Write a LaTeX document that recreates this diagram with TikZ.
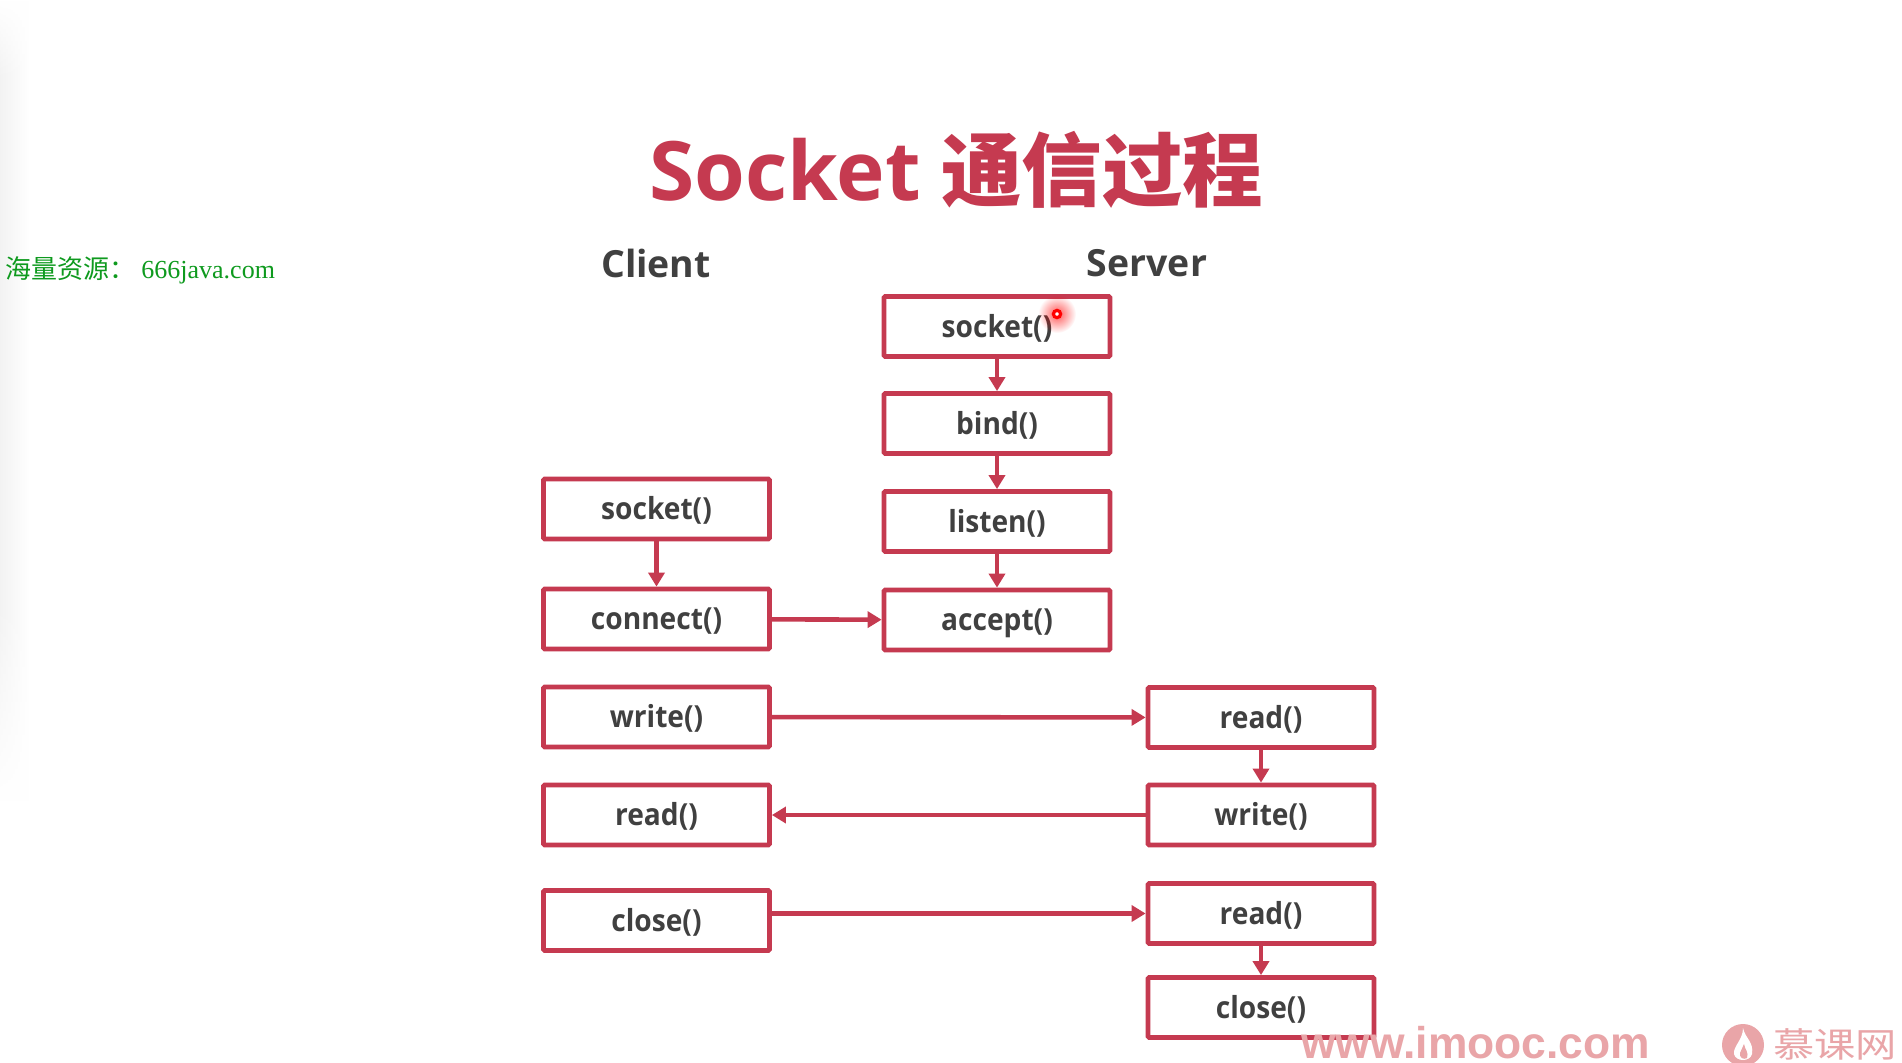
\documentclass[tikz,border=0pt]{standalone}
\usepackage{fontspec}
\setmainfont{Open Sans}
\newfontfamily\boxf[FakeStretch=0.925]{Open Sans}
\newfontfamily\cjk{Noto Sans CJK SC}
\newfontfamily\cjkw[FakeStretch=1.2]{Noto Sans CJK SC}
\newfontfamily\serifl{Liberation Serif}
\newfontfamily\arl{Liberation Sans}
\usetikzlibrary{arrows.meta,shadings,fadings}
\definecolor{boxred}{HTML}{C53A50}
\definecolor{ink}{HTML}{404040}
\definecolor{wm}{HTML}{E9A5A8}
\definecolor{grn}{HTML}{0E9A1E}
\tikzfading[name=glowf,inner color=transparent!35,outer color=transparent!100]
\tikzset{
 fn/.style={draw=boxred,line width=2.4pt,rounded corners=0.6pt,fill=white,minimum width=113pt,minimum height=30pt,inner sep=0pt,text=ink,text height=12pt,text depth=1.5pt,font=\boxf\bfseries\fontsize{15.2}{18}\selectfont},
 arr/.style={draw=boxred,line width=2.3pt,-{Triangle[length=7pt,width=8pt]}},
 head/.style={text=ink,font=\bfseries\fontsize{18.7}{23}\selectfont,inner sep=0pt},
 wmark/.style={text=wm,inner sep=0pt},
}
\begin{document}
\begin{tikzpicture}[x=0.5pt,y=-0.5pt]
\useasboundingbox (0,0) rectangle (1902,1062);
\fill[white] (0,0) rectangle (1902,1062);
\shade[left color=black!5,right color=white] (0,0) rectangle (30,800);
\fill[white,path fading=north] (0,600) rectangle (30,802);
\fill[white,path fading=south] (0,0) rectangle (30,80);
% title
\node[text=boxred,inner sep=0pt,font=\bfseries\fontsize{41}{50}\selectfont] (title) at (956.5,170) {Socket\hspace{-0.5pt} {\cjk\bfseries\fontsize{40.3}{50}\selectfont 通信过程}};
\node[head] (client) at (656,263) {Client};
\node[head] (server) at (1147,263) {Server};
\node[inner sep=0pt,anchor=west,text=grn,font=\fontsize{13}{16}\selectfont] (res) at (5,270) {{\cjk 海量资源：}\hspace{3pt}{\serifl 666java.com}};
% server boxes
\node[fn] (s1) at (997,326.5) {socket()};
\node[fn] (s2) at (997,423.5) {bind()};
\node[fn] (s3) at (997,521.5) {listen()};
\node[fn] (s4) at (997,620) {accept()};
\node[fn] (s5) at (1261,717.5) {read()};
\node[fn] (s6) at (1261,815) {write()};
\node[fn] (s7) at (1261,913.5) {read()};
\node[fn] (s8) at (1261,1007.5) {close()};
% client boxes
\node[fn] (c1) at (656.5,509) {socket()};
\node[fn] (c2) at (656.5,619) {connect()};
\node[fn] (c3) at (656.5,717) {write()};
\node[fn] (c4) at (656.5,815) {read()};
\node[fn] (c5) at (656.5,920.5) {close()};
% connectors
\draw[arr] (s1) -- (s2);
\draw[arr] (s2) -- (s3);
\draw[arr] (s3) -- (s4);
\draw[arr] (c1) -- (c2);
\draw[arr] (c2) -- (s4);
\draw[arr] (c3) -- (s5);
\draw[arr] (s5) -- (s6);
\draw[arr] (s6) -- (c4);
\draw[arr] (c5.east |- s7.west) -- (s7.west);
\draw[arr] (s7) -- (s8);
% cursor
\fill[red,path fading=glowf] (1057,314) circle (19);
\draw[red,line width=1.6pt,fill=white] (1057,314) circle (3.6);
% watermarks
\node[wmark,font=\arl\bfseries\fontsize{22.2}{25}\selectfont,anchor=west] (site) at (1301,1043) {www.imooc.com};
\fill[wm] (1743,1045) circle (21);
\fill[white] (1743,1028) .. controls (1745,1038) and (1754,1042) .. (1752,1054) .. controls (1750,1062) and (1736,1062) .. (1734,1054) .. controls (1733,1046) and (1743,1040) .. cycle;
\fill[wm] (1744,1044) .. controls (1745,1050) and (1749,1052) .. (1747,1058) .. controls (1744,1060) and (1739,1058) .. (1740,1053) -- cycle;
\node[wmark,font=\cjkw\fontsize{17.2}{22}\selectfont,anchor=west] (brand) at (1773,1044) {慕课网};
\end{tikzpicture}
\end{document}
